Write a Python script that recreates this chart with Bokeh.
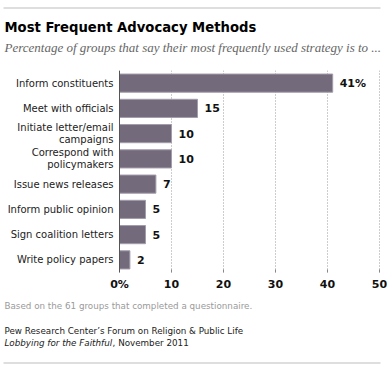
from bokeh.plotting import figure
from bokeh.layouts import column
from bokeh.models import Range1d, FactorRange, ColumnDataSource, FixedTicker, Span
from bokeh.core.properties import value
from bokeh.embed import file_html
from bokeh.resources import INLINE

# ---- data ----
categories = [
    "Inform constituents",
    "Meet with officials",
    "Initiate letter/email\ncampaigns",
    "Correspond with\npolicymakers",
    "Issue news releases",
    "Inform public opinion",
    "Sign coalition letters",
    "Write policy papers",
]
values = [41, 15, 10, 10, 7, 5, 5, 2]
value_labels = ["41%", "15", "10", "10", "7", "5", "5", "2"]
x_ticks = [0, 10, 20, 30, 40, 50]
x_tick_labels = ["0%", "10", "20", "30", "40", "50"]

title_text = "Most Frequent Advocacy Methods"
subtitle_text = "Percentage of groups that say their most frequently used strategy is to ..."
note_text = "Based on the 61 groups that completed a questionnaire."
source_text = "Pew Research Center\u2019s Forum on Religion & Public Life"
pub_italic = "Lobbying for the Faithful"
pub_rest = ", November 2011"

# ---- layout constants ----
W = 387
FONT = "DejaVu Sans"
BAR = "#736a7c"
RULE = "#bdbdbd"
TX = 4  # left edge of texts


def text_panel(height):
    f = figure(width=W, height=height, x_range=Range1d(0, W), y_range=Range1d(height, 0),
               x_axis_location=None, y_axis_location=None, output_backend="svg",
               toolbar_location=None, min_border=0)
    f.outline_line_color = None
    f.grid.visible = False
    return f


def put(f, txt, x, y, size, color, style="normal", font=FONT):
    f.text(x=[x], y=[y], text=[txt], text_font=value(font), text_font_size=size,
           text_font_style=style, text_color=color, text_baseline="middle",
           text_align="left")


# ---- header ----
HH = 62
head = text_panel(HH)
head.segment(x0=[3], y0=[7.5], x1=[380], y1=[7.5], line_color=RULE, line_width=1)
put(head, title_text, TX, 27, "13.2px", "#000000", "bold")
put(head, subtitle_text, TX, 47, "13px", "#666666", "italic", "Liberation Serif")

# ---- main chart ----
MT, MB = 8, 22
FRAME_H = 202
PX0, PX50 = 119, 379
k = (PX50 - PX0) / 50.0
p = figure(
    width=W, height=MT + FRAME_H + MB,
    x_range=Range1d(-PX0 / k, 50 + (W - PX50) / k),
    y_range=FactorRange(factors=list(reversed(categories)), range_padding=0),
    y_axis_location=None,
    output_backend="svg", toolbar_location=None,
    min_border_left=0, min_border_right=0, min_border_top=MT, min_border_bottom=MB,
)
p.outline_line_color = None

src = ColumnDataSource(dict(cat=categories, val=values, lab=value_labels,
                            zero=[0] * len(values)))
p.hbar(y="cat", right="val", left=0, height=0.72, source=src,
       fill_color=BAR, line_color="#a39cab", line_width=1)
p.text(x="val", y="cat", text="lab", source=src, x_offset=7,
       text_baseline="middle", text_align="left",
       text_font=value(FONT), text_font_style="bold",
       text_font_size="11px", text_color="#111111")
# category labels
p.text(x="zero", y="cat", text="cat", source=src, x_offset=-6,
       text_baseline="middle", text_align="right", text_line_height=1.1,
       text_font=value(FONT), text_font_size="10px", text_color="#222222")

xa = p.xaxis[0]
xa.ticker = FixedTicker(ticks=x_ticks)
xa.major_label_overrides = {t: l for t, l in zip(x_ticks, x_tick_labels)}
xa.axis_line_color = None
xa.major_tick_line_color = "#888888"
xa.major_tick_in = 3
xa.major_tick_out = 0
xa.minor_tick_line_color = None
xa.major_label_text_font = FONT
xa.major_label_text_font_style = "bold"
xa.major_label_text_font_size = "11px"
xa.major_label_text_color = "#111111"
xa.major_label_standoff = 5

p.xgrid.ticker = FixedTicker(ticks=x_ticks)
p.xgrid.grid_line_color = "#9a9a9a"
p.xgrid.grid_line_dash = "1 2"
p.ygrid.grid_line_color = None
p.add_layout(Span(location=0, dimension="height", line_color="#555555", line_width=1))

# ---- footer ----
FH = 75
FS = 8.75
foot = text_panel(FH)
put(foot, note_text, TX, 11, f"{FS}px", "#9a9a9a")
put(foot, source_text, TX, 36, f"{FS}px", "#222222")
put(foot, pub_italic, TX, 48, f"{FS}px", "#222222", "italic")
put(foot, pub_rest, TX + 12.35 * FS, 48, f"{FS}px", "#222222")
foot.segment(x0=[3], y0=[68.5], x1=[380], y1=[68.5], line_color=RULE, line_width=1)

layout = column(head, p, foot, spacing=0)
open("out.html", "w").write(file_html(layout, INLINE))
